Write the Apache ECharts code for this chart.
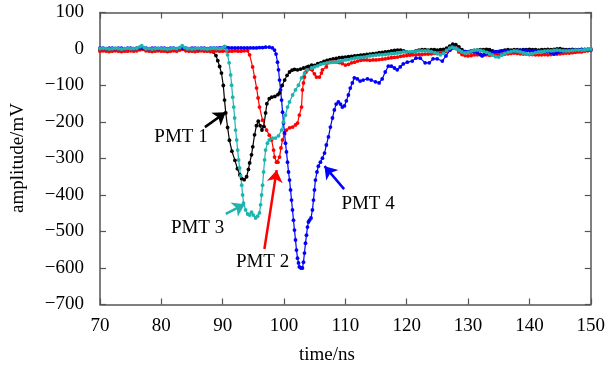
<!DOCTYPE html>
<html><head><meta charset="utf-8">
<script src="https://cdn.jsdelivr.net/npm/echarts@6/dist/echarts.min.js"></script>
<style>html,body{margin:0;padding:0;background:#fff}#c{width:608px;height:369px}</style>
</head><body><div id="c"></div>
<script>
// ---- data: [time (ns), amplitude (mV)] ----
const pmt1 = [[70,-2],[70.5,-1],[71,-2],[71.5,-3],[72,-2],[72.5,-1],[73,-2],[73.5,-3],[74,-2],[74.5,-1],[75,-2],[75.5,-2],[76,-1],[76.5,2],[77,1],[77.5,-2],[78,-2],[78.5,-3],[79,-2],[79.5,-1],[80,-2],[80.5,-2],[81,-3],[81.5,-2],[82,-1],[82.5,-2],[83,0],[83.5,2],[84,-1],[84.5,-2],[85,-2],[85.5,-3],[86,-2],[86.5,-1],[87,-2],[87.5,-3],[88,-4],[88.5,-8],
[88.9,-18],[89.2,-32],[89.5,-48],[89.8,-66],[90.1,-100],[90.3,-140],[90.5,-175],[90.8,-215],[91.1,-250],[91.5,-280],[92,-305],[92.4,-328],[92.8,-345],[93.1,-355],[93.5,-358],[93.9,-350],[94.2,-330],[94.4,-312],[94.7,-290],[94.9,-268],[95.2,-235],[95.5,-210],[95.8,-198],[96.1,-210],[96.4,-222],[96.7,-212],[97,-175],[97.2,-150],[97.6,-136],[98,-132],[98.5,-130],[99,-125],[99.3,-120],[99.7,-100],[100.1,-85],[100.5,-72],[100.9,-63],[101.3,-58],[101.7,-56],[102.2,-57],[102.7,-55],[103.2,-52],[103.7,-50],
[104,-48],[104.5,-44],[105,-45],[105.5,-40],[106,-38],[106.5,-34],[107,-31],[107.5,-29],[108,-27],[108.5,-26],[109,-24],[109.5,-23],[110,-22],[110.5,-21],[111,-20],[111.5,-19],[112,-18],[112.5,-17],[113,-16],[113.5,-15],[114,-14],[114.5,-13],[115,-12],[115.5,-10],[116,-9],[116.5,-8],[117,-7],[117.5,-5],[118,-4],[118.5,-3],[119,-3],[119.5,-5],[120,-8],[120.5,-11],[121,-8],[121.5,-5],[122,-3],[122.5,-2],[123,-2],[123.5,-3],[124,-2],[124.5,-2],[125,-3],[125.5,-2],[126,-1],[126.5,2],[127,8],[127.5,13],[128,12],[128.5,6],[129,-2],[129.5,-7],[130,-8],[130.5,-5],[131,-4],[131.5,-3],[132,-2],[132.5,-2],[133,-1],[133.5,-2],[134,-5],[134.5,-8],[135,-8],[135.5,-5],[136,-3],[136.5,-2],[137,-3],[137.5,-2],[138,-2],[138.5,-3],[139,-2],[139.5,-2],[140,-1],[140.5,-2],[141,-2],[141.5,-3],[142,-2],[142.5,-2],[143,-1],[143.5,-2],[144,-1],[144.5,0],[145,1],[145.5,-1],[146,-2],[146.5,-2],[147,-1],[147.5,-2],[148,-2],[148.5,-1],[149,-2],[149.5,-1],[150,-2]];

const pmt2 = [[70,-6],[70.5,-5],[71,-6],[71.5,-7],[72,-6],[72.5,-5],[73,-6],[73.5,-7],[74,-6],[74.5,-6],[75,-5],[75.5,-6],[76,-5],[76.5,-2],[77,-1],[77.5,-5],[78,-6],[78.5,-7],[79,-6],[79.5,-5],[80,-6],[80.5,-6],[81,-7],[81.5,-6],[82,-5],[82.5,-6],[83,-3],[83.5,-1],[84,-5],[84.5,-6],[85,-6],[85.5,-7],[86,-6],[86.5,-5],[87,-6],[87.5,-6],[88,-7],[88.5,-6],[89,-5],[89.5,-6],[90,-6],[90.5,-5],[91,-6],[91.5,-6],[92,-5],[92.5,-6],[93,-6],[93.5,-5],[94.07,-5],
[94.39,-16],[94.88,-49],[95.2,-77],[95.53,-107],[95.77,-134],[96,-159],[96.5,-195],[97.15,-222],[97.6,-236],[97.97,-249],[98.3,-277],[98.45,-296],[98.78,-310],[99,-310],[99.27,-296],[99.5,-271],[99.76,-249],[100.08,-233],[100.4,-222],[100.9,-216],[101.4,-214],[101.87,-208],[102.2,-203],[102.5,-181],[102.85,-159],[103,-112],[103.17,-93],[103.33,-77],[103.58,-63],[103.8,-57],[104.3,-55],[104.6,-57],[104.96,-68],[105.28,-77],[105.77,-77],[106.1,-66],[106.26,-57],[106.9,-49],
[107,-40],[107.5,-36],[108,-35],[108.5,-36],[109,-37],[109.5,-40],[110,-44],[110.5,-42],[111,-38],[111.5,-36],[112,-33],[112.5,-31],[113,-30],[113.5,-30],[114,-31],[114.5,-30],[115,-30],[115.5,-29],[116,-28],[116.5,-27],[117,-25],[117.5,-24],[118,-23],[118.5,-22],[119,-20],[119.5,-19],[120,-18],[120.5,-17],[121,-16],[121.5,-16],[122,-15],[122.5,-15],[123,-14],[123.5,-14],[124,-13],[124.5,-12],[125,-11],[125.5,-10],[126,-9],[126.5,-7],[127,-2],[127.5,2],[128,2],[128.5,-8],[129,-15],[129.5,-18],[130,-19],[130.5,-18],[131,-16],[131.5,-16],[132,-15],[132.5,-16],[133,-16],[133.5,-17],[134,-16],[134.5,-15],[135,-16],[135.5,-15],[136,-14],[136.5,-13],[137,-12],[137.5,-11],[138,-12],[138.5,-13],[139,-14],[139.5,-14],[140,-15],[140.5,-15],[141,-16],[141.5,-16],[142,-16],[142.5,-15],[143,-16],[143.5,-15],[144,-14],[144.5,-14],[145,-13],[145.5,-12],[146,-11],[146.5,-11],[147,-10],[147.5,-9],[148,-8],[148.5,-8],[149,-6],[149.5,-5],[150,-4]];

const pmt3 = [[70,1],[70.5,2],[71,1],[71.5,0],[72,1],[72.5,2],[73,1],[73.5,0],[74,1],[74.5,2],[75,1],[75.5,1],[76,2],[76.5,6],[76.8,9],[77.2,4],[77.5,1],[78,1],[78.5,0],[79,1],[79.5,2],[80,1],[80.5,1],[81,0],[81.5,1],[82,2],[82.5,1],[83,4],[83.4,9],[83.8,4],[84.2,1],[84.5,1],[85,0],[85.5,1],[86,2],[86.5,1],[87,1],[87.5,0],[88,1],[88.5,2],[89,1],[89.5,1],[90,3],[90.33,7],
[90.65,-3],[90.8,-16],[91.05,-38],[91.3,-71],[91.46,-99],[91.63,-132],[91.8,-159],[91.95,-189],[92.1,-222],[92.28,-249],[92.44,-277],[92.6,-304],[92.76,-326],[92.93,-348],[93.1,-373],[93.25,-400],[93.4,-422],[93.74,-441],[94.07,-452],[94.4,-455],[94.7,-447],[95,-455],[95.37,-463],[95.7,-458],[96,-449],[96.18,-427],[96.34,-400],[96.5,-373],[96.67,-337],[96.83,-304],[96.99,-277],[97.3,-258],[97.6,-249],[98.1,-244],[98.6,-244],[99.1,-238],[99.6,-222],[99.9,-200],[100.24,-181],[100.57,-159],[100.9,-145],[101.4,-126],[101.87,-112],[102.36,-99],[102.85,-79],[103.33,-66],[103.8,-57],
[104.5,-52],[105,-49],[105.5,-46],[106,-42],[106.5,-40],[107,-38],[107.5,-37],[108,-36],[108.5,-36],[109,-34],[109.5,-32],[110,-30],[110.5,-29],[111,-27],[111.5,-25],[112,-24],[112.5,-23],[113,-22],[113.5,-21],[114,-19],[114.5,-18],[115,-17],[115.5,-16],[116,-16],[116.5,-15],[117,-14],[117.5,-13],[118,-12],[118.5,-11],[119,-10],[119.5,-8],[120,-8],[120.5,-8],[121,-7],[121.5,-6],[122,-5],[122.5,-5],[123,-5],[123.5,-5],[124,-7],[124.5,-10],[125,-13],[125.5,-16],[126,-12],[126.5,-4],[127,2],[127.4,5],[127.8,2],[128.2,0],[128.6,-4],[129,-8],[129.5,-11],[130,-9],[130.5,-6],[131,-4],[131.5,-3],[132,-4],[132.5,-6],[133,-9],[133.5,-13],[134,-17],[134.5,-21],[135,-22],[135.5,-17],[136,-12],[136.5,-9],[137,-7],[137.5,-5],[138,-6],[138.5,-8],[139,-11],[139.5,-13],[140,-14],[140.5,-13],[141,-10],[141.5,-8],[142,-7],[142.5,-6],[143,-5],[143.5,-5],[144,-4],[144.5,-3],[145,-4],[145.5,-5],[146,-5],[146.5,-5],[147,-4],[147.5,-3],[148,-3],[148.5,-3],[149,-2],[149.5,-1],[150,0]];

const pmt4 = [[70,2],[70.5,2],[71,1],[71.5,2],[72,2],[72.5,1],[73,2],[73.5,2],[74,1],[74.5,2],[75,2],[75.5,1],[76,2],[76.5,3],[77,2],[77.5,2],[78,1],[78.5,2],[79,2],[79.5,1],[80,2],[80.5,2],[81,1],[81.5,2],[82,2],[82.5,1],[83,3],[83.5,2],[84,2],[84.5,1],[85,2],[85.5,2],[86,1],[86.5,2],[87,2],[87.5,1],[88,2],[88.5,2],[89,2],[89.5,3],[90,4],[90.3,6],[90.7,4],[91,3],[91.5,3],[92,3],[92.5,3],[93,3],[93.5,3],[94,3],[94.5,3],[95,3],[95.5,3],[96,4],[96.5,4],[97,5],[97.6,5],[98.1,3],
[98.45,-3],[98.7,-14],[98.94,-36],[99.1,-57],[99.27,-85],[99.43,-112],[99.6,-140],[99.76,-173],[99.92,-203],[100.08,-230],[100.24,-258],[100.4,-282],[100.57,-310],[100.73,-337],[100.9,-359],[101.06,-386],[101.22,-414],[101.38,-441],[101.54,-469],[101.7,-496],[101.87,-523],[102.03,-551],[102.2,-573],[102.36,-586],[102.5,-597],[102.76,-600],[103,-600],[103.17,-584],[103.33,-559],[103.5,-532],[103.66,-510],[103.82,-488],[103.98,-474],[104.15,-469],[104.4,-463],[104.63,-441],[104.8,-414],[104.96,-386],[105.12,-359],[105.37,-337],[105.6,-321],[105.93,-310],[106.26,-299],[106.6,-285],[106.9,-263],[107.24,-241],[107.56,-214],[107.9,-189],[108.2,-167],[108.5,-151],[108.86,-145],[109.2,-151],[109.5,-159],[109.84,-156],[110.16,-142],[110.49,-126],[110.8,-107],[111.14,-93],[111.46,-79],[111.95,-82],[112.4,-88],[112.9,-85],[113.6,-82],[114.2,-85],[114.9,-90],[115.5,-93],[116,-82],[116.5,-63],[117,-47],[117.5,-47],[118,-52],[118.45,-57],[118.94,-49],[119.43,-41],[120.1,-36],[120.9,-33],[121.5,-25],[122.2,-25],[123,-38],[123.66,-38],[124.3,-27],[124.96,-27],[125.8,-33],[126.4,-19],[127.07,-3],[127.7,5],[128.4,0],[129,-5],[129.5,-7],[130,-8],[130.5,-8],[131,-8],[131.5,-10],[132,-15],[132.3,-19],[132.7,-15],[133.1,-11],[133.6,-9],[134.2,-8],[134.7,-7],[135.2,-6],[135.8,-5],[136.3,-5],[136.8,-5],[137.5,-5],[138,-4],[138.5,-3],[139.1,-3],[139.6,-4],[140.1,-5],[140.7,-5],[141.2,-5],[141.8,-5],[142.4,-5],[142.9,-7],[143.5,-10],[144,-14],[144.4,-11],[144.8,-8],[145.3,-6],[145.8,-4],[146.4,-3],[147,-3],[147.5,-3],[148,-3],[148.5,-2],[149,-1],[149.5,-1],[150,0]];

const seriesNames = ['PMT 1', 'PMT 2', 'PMT 3', 'PMT 4'];
const seriesColors = ['#000000', '#ff0000', '#1fb3b0', '#0000ff'];
// annotation: label position and arrow (tail -> head), in data coordinates
const labelPos = [[83.2,-241],[96.5,-584],[85.9,-490],[113.7,-425]];
const arrowTail = [[87.1,-214],[96.8,-548],[90.5,-452],[109.8,-384]];
const arrowHead = [[90.5,-173],[98.8,-332],[93.6,-425],[106.6,-321]];
const xTicks = {min:70, max:150, interval:10};
const yTicks = {min:-700, max:100, interval:100};

const FONT = '"Liberation Serif", "Times New Roman", serif';
const datasets = [pmt1, pmt2, pmt3, pmt4];
const order = [0, 1, 3, 2];

const chart = echarts.init(document.getElementById('c'), null, {renderer:'canvas'});
const axisLine = {show:true, onZero:false, lineStyle:{color:'#555', width:1.5}};
const tick = {show:true, inside:true, length:6, lineStyle:{color:'#555', width:1.2}};
const minus = v => String(v).replace('-', '\u2212');

const series = order.map(i => ({
  name: seriesNames[i], type:'line', data: datasets[i],
  xAxisIndex:0, yAxisIndex:0,
  showSymbol:true, showAllSymbol:true, symbol:'circle', symbolSize:3.8,
  lineStyle:{color:seriesColors[i], width:1.2},
  itemStyle:{color:seriesColors[i]},
  z: 2,
  markLine:{
    silent:true, symbol:['none','arrow'], symbolSize:12,
    label:{show:false}, lineStyle:{color:seriesColors[i], width:2.5, type:'solid'},
    data:[[{coord:arrowTail[i]},{coord:arrowHead[i]}]]
  },
  markPoint:{
    silent:true, symbol:'circle', symbolSize:1, itemStyle:{color:'rgba(0,0,0,0)'},
    label:{show:true, position:'inside', formatter:seriesNames[i], color:'#000', fontSize:19, fontFamily:FONT},
    data:[{coord:labelPos[i]}]
  }
}));

chart.setOption({
  animation:false,
  backgroundColor:'#fff',
  grid:{left:100, right:16, top:12.5, bottom:64.5, containLabel:false},
  xAxis:[
    {type:'value', position:'bottom', min:xTicks.min, max:xTicks.max, interval:xTicks.interval,
     axisLine, axisTick:tick, splitLine:{show:false},
     axisLabel:{color:'#000', fontSize:19, fontFamily:FONT, margin:12}},
    {type:'value', position:'top', min:xTicks.min, max:xTicks.max, interval:xTicks.interval,
     axisLine, axisTick:tick, splitLine:{show:false}, axisLabel:{show:false}}
  ],
  yAxis:[
    {type:'value', position:'left', min:yTicks.min, max:yTicks.max, interval:yTicks.interval,
     axisLine, axisTick:tick, splitLine:{show:false},
     axisLabel:{color:'#000', fontSize:19, fontFamily:FONT, margin:16, formatter:minus}},
    {type:'value', position:'right', min:yTicks.min, max:yTicks.max, interval:yTicks.interval,
     axisLine, axisTick:tick, splitLine:{show:false}, axisLabel:{show:false}}
  ],
  graphic:[
    {type:'text', x:327, y:355, style:{text:'time/ns', font:'19px ' + FONT, fill:'#000', textAlign:'center', textVerticalAlign:'middle'}},
    {type:'text', x:18, y:158, rotation:Math.PI/2, style:{text:'amplitude/mV', font:'19px ' + FONT, fill:'#000', textAlign:'center', textVerticalAlign:'middle'}}
  ],
  series
});
</script></body></html>
